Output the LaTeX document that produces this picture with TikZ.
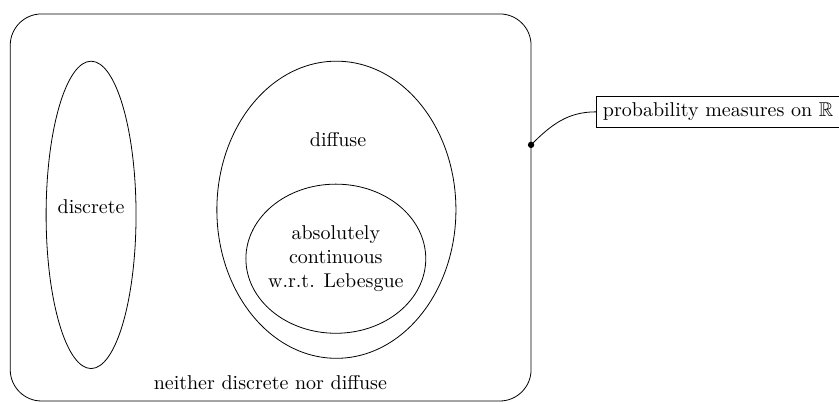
\documentclass[tikz,border=0pt]{standalone}
\usepackage{amsmath,amssymb}
\usetikzlibrary{positioning,shapes.geometric}

\begin{document}
\begin{tikzpicture}[
  set/.style={draw, ellipse, inner sep=0pt},
  labelbox/.style={draw, anchor=west, inner sep=3.3pt}
]
\useasboundingbox (0,0) rectangle (14.74,7.065);

% Outer box: all probability measures
\draw[rounded corners=0.55cm] (0.18,0.02) rectangle (9.33,6.82);
\node (neither) at (4.75,0.35) {neither discrete nor diffuse};

% Discrete
\node[set, minimum width=1.58cm, minimum height=5.40cm] (discrete) at (1.60,3.29) {};
\node (discretelbl) at (1.60,3.43) {discrete};

% Diffuse and absolutely continuous
\node[set, minimum width=4.20cm, minimum height=5.22cm] (diffuse) at (5.91,3.38) {};
\node (diffuselbl) at (5.94,4.62) {diffuse};
\node[set, minimum width=3.16cm, minimum height=2.62cm] (abscont) at (5.90,2.52) {};
\node[align=center] (abscontlbl) at (abscont) {absolutely\\continuous\\w.r.t. Lebesgue};

% Label
\coordinate (dot) at (9.33,4.52);
\fill (dot) circle (1.6pt);
\node[labelbox] (lbl) at (10.47,5.10) {probability measures on $\mathbb{R}$};
\draw (dot) to[out=45, in=180] (lbl.west);

\end{tikzpicture}
\end{document}
